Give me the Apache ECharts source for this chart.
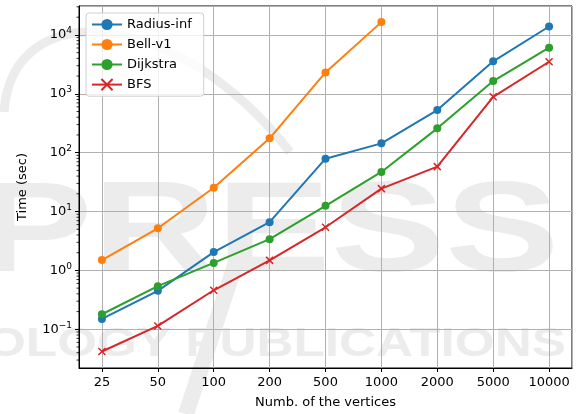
<!DOCTYPE html>
<html>
<head>
<meta charset="utf-8">
<script src="https://cdn.jsdelivr.net/npm/echarts@6/dist/echarts.min.js"></script>
<style>
  html, body { margin: 0; padding: 0; background: #fff; }
  #chart { width: 578px; height: 414px; }
</style>
</head>
<body>
<div id="chart"></div>
<script>
// vertices count (x categories)
var vertices = ['25', '50', '100', '200', '500', '1000', '2000', '5000', '10000'];

// running times in seconds
var radiusInf = [0.15, 0.45, 2.05, 6.6, 79, 144, 530, 3560, 13900];
var bellV1 = [1.5, 5.2, 25.3, 175, 2310, 16500];
var dijkstra = [0.18, 0.54, 1.34, 3.4, 12.5, 47, 259, 1645, 6080];
var bfs = [0.042, 0.114, 0.46, 1.48, 5.4, 24.5, 58, 890, 3500];

// minor tick positions of the log axis (2..9 per decade)
var minorTicks = [];
[-2, -1, 0, 1, 2, 3, 4].forEach(function (d) {
    for (var k = 2; k <= 9; k++) {
        var v = k * Math.pow(10, d);
        if (v > 0.022 && v < 31000) minorTicks.push(v);
    }
});

var colors = ['#1f77b4', '#ff7f0e', '#2ca02c', '#d62728'];
var FONT = 'DejaVu Sans';
var crossPath = 'path://M0,0L10,10M10,0L0,10';

function pairs(arr) {
    return arr.map(function (v, i) { return [i, v]; });
}

function lineSeries(name, arr, color, cross) {
    var s = {
        name: name,
        type: 'line',
        data: pairs(arr),
        symbol: cross ? crossPath : 'circle',
        symbolSize: cross ? 7 : 8,
        showSymbol: true,
        lineStyle: { color: color, width: 2 },
        itemStyle: { color: color, opacity: 1 },
        emphasis: { disabled: true },
        z: 3
    };
    if (cross) {
        s.itemStyle.borderColor = color;
        s.itemStyle.borderWidth = 1.5;
    }
    return s;
}

var dom = document.getElementById('chart');
var myChart = echarts.init(dom, null, { renderer: 'canvas' });

var wm = '#ececec';

var option = {
    animation: false,
    backgroundColor: '#fff',
    color: colors,
    textStyle: { fontFamily: FONT },
    graphic: [
        {
            type: 'bezierCurve', z: -10, silent: true,
            shape: { x1: 4, y1: 112, cpx1: 12, cpy1: -5, cpx2: 175, cpy2: 5, x2: 290, y2: 152 },
            style: { stroke: wm, lineWidth: 9, fill: null }
        },
        {
            type: 'line', z: -10, silent: true,
            shape: { x1: 236, y1: 262, x2: 186, y2: 414 },
            style: { stroke: wm, lineWidth: 16 }
        },
        {
            type: 'text', left: -22, top: 172, z: -10, silent: true,
            scaleX: 1.34,
            style: { text: 'PRESS', fontSize: 128, fontWeight: 'bold', fontFamily: 'sans-serif', fill: wm }
        },
        {
            type: 'text', left: -14, top: 324, z: -10, silent: true,
            scaleX: 1.25,
            style: { text: 'OLOGY PUBLICATIONS', fontSize: 41, fontWeight: 'bold', fontFamily: 'sans-serif', fill: wm }
        }
    ],
    grid: {
        left: 79, right: 6, top: 6, bottom: 46,
        show: true, borderColor: '#000', borderWidth: 1,
        containLabel: false
    },
    legend: {
        orient: 'vertical',
        left: 86, top: 13,
        itemWidth: 30, itemHeight: 14, itemGap: 7,
        padding: [5, 12, 5, 5],
        borderColor: '#d0d0d0', borderWidth: 1, borderRadius: 3,
        backgroundColor: 'rgba(255,255,255,0.8)',
        textStyle: { fontSize: 13, fontFamily: FONT, color: '#000' },
        data: ['Radius-inf', 'Bell-v1', 'Dijkstra', 'BFS']
    },
    xAxis: {
        type: 'value',
        min: -0.41, max: 8.41,
        splitNumber: 9,
        name: 'Numb. of the vertices',
        nameLocation: 'middle',
        nameGap: 28,
        nameTextStyle: { fontSize: 13, fontFamily: FONT, color: '#000' },
        axisLine: { show: true, onZero: false, lineStyle: { color: '#000', width: 1 } },
        axisTick: { show: true, inside: false, length: 4, lineStyle: { color: '#000' } },
        axisLabel: {
            margin: 8, fontSize: 13, fontFamily: FONT, color: '#000',
            showMinLabel: false, showMaxLabel: false,
            formatter: function (v) {
                return Math.abs(v - Math.round(v)) < 1e-6 ? (vertices[Math.round(v)] || '') : '';
            }
        },
        splitLine: { show: true, lineStyle: { color: '#b0b0b0', width: 1 } }
    },
    yAxis: {
        type: 'log',
        logBase: 10,
        min: 0.022, max: 31000,
        name: 'Time (sec)',
        nameLocation: 'middle',
        nameGap: 50,
        nameTextStyle: { fontSize: 13, fontFamily: FONT, color: '#000' },
        axisLine: { show: true, onZero: false, lineStyle: { color: '#000', width: 1 } },
        axisTick: { show: true, inside: false, length: 4, lineStyle: { color: '#000' } },
        axisLabel: {
            margin: 7, fontSize: 13, fontFamily: FONT, color: '#000',
            showMinLabel: false, showMaxLabel: false,
            formatter: function (v) {
                var e = Math.log10(v);
                if (Math.abs(e - Math.round(e)) > 1e-6) return '';
                var n = Math.round(e);
                return '10{sup|' + (n < 0 ? '\u2212' + (-n) : n) + '}';
            },
            rich: {
                sup: { fontSize: 9, fontFamily: FONT, color: '#000', padding: [0, 0, 8, 0] }
            }
        },
        splitLine: { show: true, lineStyle: { color: '#b0b0b0', width: 1 } }
    },
    series: [
        lineSeries('Radius-inf', radiusInf, colors[0], false),
        lineSeries('Bell-v1', bellV1, colors[1], false),
        lineSeries('Dijkstra', dijkstra, colors[2], false),
        lineSeries('BFS', bfs, colors[3], true),
        {
            // log-axis minor ticks drawn through the axis scale
            type: 'custom',
            silent: true,
            data: minorTicks.map(function (v) { return [-0.41, v]; }),
            encode: { x: 0, y: 1 },
            clip: false,
            renderItem: function (params, api) {
                var p = api.coord([api.value(0), api.value(1)]);
                return {
                    type: 'line',
                    shape: { x1: p[0] - 2.5, y1: p[1], x2: p[0], y2: p[1] },
                    style: { stroke: '#000', lineWidth: 0.8 }
                };
            },
            z: 4
        }
    ]
};

if (option && typeof option === 'object') {
    myChart.setOption(option);
}

window.addEventListener('resize', myChart.resize);
</script>
</body>
</html>
